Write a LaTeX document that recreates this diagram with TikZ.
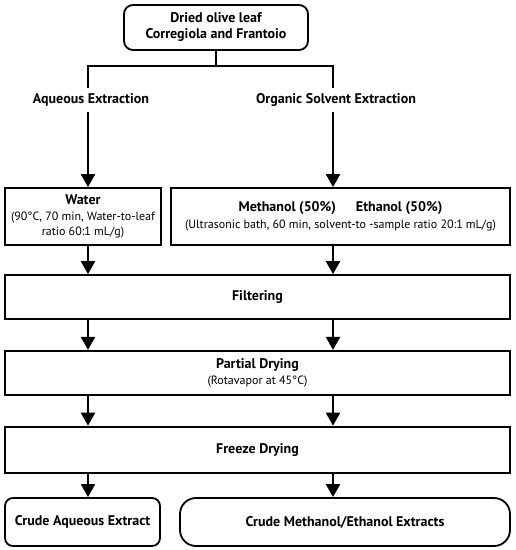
\documentclass[tikz,border=0pt]{standalone}
\usepackage{fontspec}
\setmainfont{PT Sans}
\usetikzlibrary{arrows.meta,positioning}
\newcommand\boldline[1]{{\fontsize{14}{17}\selectfont\bfseries #1}}

\begin{document}
\begin{tikzpicture}[
      x=1pt, y=1pt,
      font=\fontsize{12}{15.5}\selectfont,
      box/.style={draw, line width=1.8pt, align=center, minimum width=505pt, minimum height=44pt, inner sep=1pt},
      hd/.style={font=\fontsize{14}{17}\selectfont\bfseries},
      link/.style={line width=2.2pt},
      arrow/.style={link, -{Triangle[length=13pt, width=14pt]}}
    ]
    \useasboundingbox (0,0) rectangle (516,-550);
    \coordinate (lc) at (88,0);
    \coordinate (rc) at (333,0);
    % source and the two extraction routes
    \node[box, rounded corners=9pt, minimum width=184pt, minimum height=45pt, font=\fontsize{14}{16}\selectfont\bfseries] (leaf) at (216,-27.5) {Dried olive leaf\\Corregiola and Frantoio};
    \node[hd, minimum height=24pt] (aqx) at (91,-100) {Aqueous Extraction};
    \node[hd, minimum height=24pt] (orgx) at (336,-100) {Organic Solvent Extraction};
    \node[box, minimum width=156pt, minimum height=57pt] (water) at (83,-216.5) {\boldline{Water}\\(90°C, 70 min, Water-to-leaf\\ratio 60:1 mL/g)};
    \node[box, minimum width=339pt, minimum height=57pt] (solv) at (340.5,-216.5) {\boldline{Methanol (50\%)\hspace{20pt}Ethanol (50\%)}\\[2pt](Ultrasonic bath, 60 min, solvent-to -sample ratio 20:1 mL/g)};
    % common steps
    \node[box, hd] (filt) at (257.5,-297) {Filtering};
    \node[box, below=30pt of filt] (pdry) {\boldline{Partial Drying}\\(Rotavapor at 45°C)};
    \node[box, hd, below=30pt of pdry, minimum height=46pt] (fdry) {Freeze Drying};
    \node[box, hd, rounded corners=8pt, minimum width=155pt, minimum height=48pt] (caq) at (82.5,-522) {Crude Aqueous Extract};
    \node[box, hd, rounded corners=16pt, minimum width=330pt, minimum height=48pt] (cme) at (345,-522) {Crude Methanol/Ethanol Extracts};
    \coordinate (fork) at (216,-66);
    \draw[link] (leaf.south) -- (fork);
    \draw[link] (aqx.north -| lc) |- (fork) -| (orgx.north -| rc);
    \draw[arrow] (aqx.south -| lc) -- (water.north -| lc);
    \draw[arrow] (orgx.south -| rc) -- (solv.north -| rc);
    \draw[arrow] (water.south -| lc) -- (filt.north -| lc);
    \draw[arrow] (solv.south -| rc) -- (filt.north -| rc);
    \foreach \a/\b in {filt/pdry, pdry/fdry} {
      \draw[arrow] (\a.south -| lc) -- (\b.north -| lc);
      \draw[arrow] (\a.south -| rc) -- (\b.north -| rc);
    }
    \draw[arrow] (fdry.south -| lc) -- (caq.north -| lc);
    \draw[arrow] (fdry.south -| rc) -- (cme.north -| rc);
  \end{tikzpicture}
\end{document}
